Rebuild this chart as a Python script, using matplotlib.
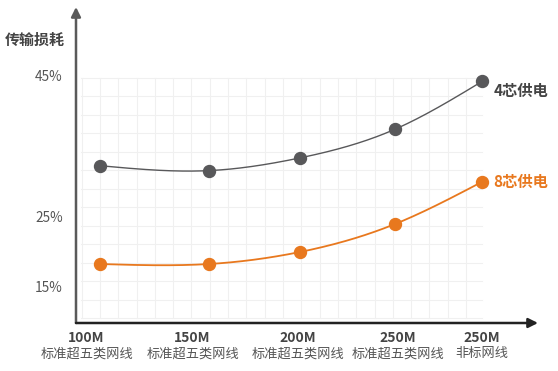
import numpy as np
import matplotlib
matplotlib.use("Agg")
import matplotlib.pyplot as plt

plt.rcParams['font.family'] = ['Noto Sans CJK SC', 'DejaVu Sans']

# data
point_x = [0.0, 1.14, 2.09, 3.09, 4.0]
loss_4core = [32.4, 31.7, 33.5, 37.6, 44.4]
loss_8core = [18.4, 18.4, 20.1, 24.1, 30.1]
speed_labels = ['100M', '150M', '200M', '250M', '250M']
cable_labels = ['标准超五类网线', '标准超五类网线', '标准超五类网线', '标准超五类网线', '非标网线']
label_x = [-0.14, 0.97, 2.07, 3.12, 4.0]
y_ticks = [15, 25, 45]
series_names = ['4芯供电', '8芯供电']

GRAY = '#58585a'
ORANGE = '#e8781e'
TEXT = '#444444'


def natural_spline(x, y, n=200):
    """natural cubic spline through the points, used only to shape the line"""
    x = np.asarray(x, float)
    y = np.asarray(y, float)
    k = len(x)
    h = np.diff(x)
    A = np.zeros((k, k))
    b = np.zeros(k)
    A[0, 0] = A[-1, -1] = 1
    for i in range(1, k - 1):
        A[i, i - 1] = h[i - 1]
        A[i, i] = 2 * (h[i - 1] + h[i])
        A[i, i + 1] = h[i]
        b[i] = 3 * ((y[i + 1] - y[i]) / h[i] - (y[i] - y[i - 1]) / h[i - 1])
    c = np.linalg.solve(A, b)
    xs = np.linspace(x[0], x[-1], n)
    ys = np.empty_like(xs)
    for j, xv in enumerate(xs):
        i = min(np.searchsorted(x, xv, side='right') - 1, k - 2)
        d = (c[i + 1] - c[i]) / (3 * h[i])
        bb = (y[i + 1] - y[i]) / h[i] - h[i] * (2 * c[i] + c[i + 1]) / 3
        t = xv - x[i]
        ys[j] = y[i] + bb * t + c[i] * t ** 2 + d * t ** 3
    return xs, ys


fig = plt.figure(figsize=(5.58, 3.71), dpi=100)
ax = fig.add_axes([76 / 558, 48 / 371, 462 / 558, 316 / 371])
ax.set_xlim(-0.251, 4.586)
ax.set_ylim(10, 55)
for s in ax.spines.values():
    s.set_visible(False)
ax.set_xticks([])
ax.set_yticks([])

# faint background grid
step_x = 18.3 / 95.5
for gx in np.arange(-step_x, 4.01, step_x):
    ax.plot([gx, gx], [10.7, 44.9], color='#f0f0f0', lw=0.8, zorder=0)
for gy in np.linspace(10.7, 44.9, 14):
    ax.plot([-0.2, 4.0], [gy, gy], color='#f0f0f0', lw=0.8, zorder=0)

# axes with arrows
ax.annotate('', xy=(0, 1), xytext=(0, 0), xycoords='axes fraction',
            arrowprops=dict(arrowstyle='-|>', color='#5a5a5a', lw=1.8,
                            mutation_scale=14, shrinkA=0, shrinkB=0))
ax.annotate('', xy=(1, 0), xytext=(0, 0), xycoords='axes fraction',
            arrowprops=dict(arrowstyle='-|>', color='#222222', lw=1.8,
                            mutation_scale=14, shrinkA=0, shrinkB=0))

for vals, col, lw in [(loss_4core, GRAY, 1.0), (loss_8core, ORANGE, 1.3)]:
    xs, ys = natural_spline(point_x, vals)
    ax.plot(xs, ys, color=col, lw=lw, zorder=2)
    ax.plot(point_x, vals, 'o', color=col, ms=8.6, zorder=3)

ax.text(4.12, loss_4core[-1] - 1.3, series_names[0], color=TEXT, fontsize=11,
        fontweight='bold', va='center', ha='left')
ax.text(4.12, loss_8core[-1], series_names[1], color=ORANGE, fontsize=11,
        fontweight='bold', va='center', ha='left')

for v in y_ticks:
    ax.text(-0.39, v, f'{v}%', color='#555555', fontsize=9.8, ha='right', va='center')
ax.text(-0.37, 50.3, '传输损耗', color=TEXT, fontsize=10.8, fontweight='bold',
        ha='right', va='center')

for lx, sp, cb in zip(label_x, speed_labels, cable_labels):
    ax.text(lx, 7.9, sp, color=TEXT, fontsize=10, fontweight='bold',
            ha='center', va='center', clip_on=False)
    ax.text(lx, 5.6, cb, color='#555555', fontsize=9.5, ha='center', va='center',
            clip_on=False)

fig.savefig('out.png', dpi=100, facecolor='white')
